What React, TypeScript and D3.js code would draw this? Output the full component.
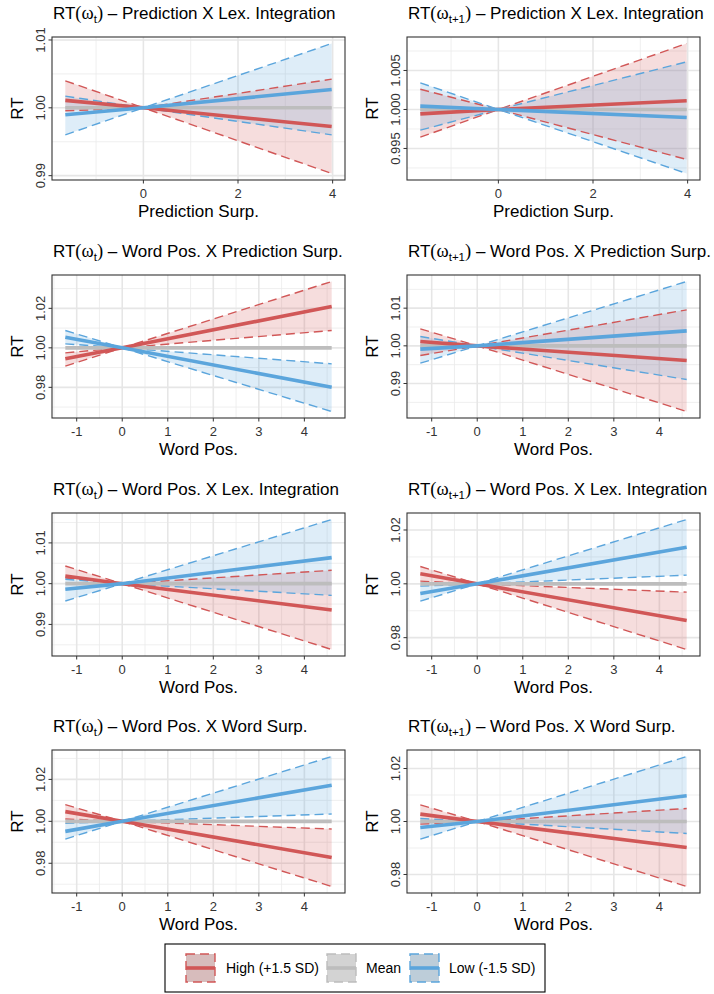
import React from 'react';
import * as d3 from 'd3';

// groups in legend order
const groups = ['High (+1.5 SD)', 'Mean', 'Low (-1.5 SD)'];
const colors = ['#D15757', '#BDBDBD', '#5BA5DC'];

const titleSubs = ['t', 't+1', 't', 't+1', 't', 't+1', 't', 't+1'];
const titleTexts = [
    'Prediction X Lex. Integration', 'Prediction X Lex. Integration',
    'Word Pos. X Prediction Surp.', 'Word Pos. X Prediction Surp.',
    'Word Pos. X Lex. Integration', 'Word Pos. X Lex. Integration',
    'Word Pos. X Word Surp.', 'Word Pos. X Word Surp.',
];
const xTitles = [
    'Prediction Surp.', 'Prediction Surp.', 'Word Pos.', 'Word Pos.',
    'Word Pos.', 'Word Pos.', 'Word Pos.', 'Word Pos.',
];

// x values where the effects are read: left end, centre, right end
const xPoints = [
    [-1.65, 0, 3.98], [-1.65, 0, 3.98],
    [-1.25, 0, 4.6], [-1.25, 0, 4.6],
    [-1.25, 0, 4.6], [-1.25, 0, 4.6],
    [-1.25, 0, 4.6], [-1.25, 0, 4.6],
];
const xTicks = [
    [0, 2, 4], [0, 2, 4],
    [-1, 0, 1, 2, 3, 4], [-1, 0, 1, 2, 3, 4],
    [-1, 0, 1, 2, 3, 4], [-1, 0, 1, 2, 3, 4],
    [-1, 0, 1, 2, 3, 4], [-1, 0, 1, 2, 3, 4],
];
const yTicks = [
    [0.99, 1, 1.01], [0.995, 1, 1.005],
    [0.98, 1, 1.02], [0.99, 1, 1.01],
    [0.99, 1, 1.01], [0.98, 1, 1.02],
    [0.98, 1, 1.02], [0.98, 1, 1.02],
];
const yTickLabels = [
    ['0.99', '1.00', '1.01'], ['0.995', '1.000', '1.005'],
    ['0.98', '1.00', '1.02'], ['0.99', '1.00', '1.01'],
    ['0.99', '1.00', '1.01'], ['0.98', '1.00', '1.02'],
    ['0.98', '1.00', '1.02'], ['0.98', '1.00', '1.02'],
];

// High (+1.5 SD)
const highFit = [
    [1.0011, 1, 0.99725], [0.99944, 1, 1.00111], [0.99443, 1, 1.02093], [1.00115, 1, 0.99611],
    [1.00189, 1, 0.99352], [1.00372, 1, 0.98638], [1.00462, 1, 0.98279], [1.00277, 1, 0.99019],
];
const highLower = [
    [0.99956, 1, 0.99032], [0.99645, 1, 0.99359], [0.99072, 1, 1.00878], [0.99743, 1, 0.98257],
    [1.0014, 1, 0.98385], [1.00099, 1, 0.9756], [1.00112, 1, 0.96892], [0.999, 1, 0.97547],
];
const highUpper = [
    [1.00398, 1, 1.00423], [1.0026, 1, 1.00846], [0.99747, 1, 1.03359], [1.00451, 1, 1.00956],
    [1.00434, 1, 1.00328], [1.00644, 1, 0.9969], [1.00797, 1, 0.99633], [1.00629, 1, 1.00491],
];
// Mean
const meanFit = [
    [1, 1, 1], [1, 1, 1], [1, 1, 1], [1, 1, 1],
    [1, 1, 1], [1, 1, 1], [1, 1, 1], [1, 1, 1],
];
// Low (-1.5 SD)
const lowFit = [
    [0.99897, 1, 1.0027], [1.00043, 1, 0.99897], [1.0054, 1, 0.98008], [0.99912, 1, 1.00398],
    [0.99861, 1, 1.00639], [0.99641, 1, 1.01362], [0.99522, 1, 1.01721], [0.99774, 1, 1.00969],
];
const lowLower = [
    [0.99602, 1, 0.99602], [0.99735, 1, 0.99179], [1.00203, 1, 0.96776], [0.9954, 1, 0.99106],
    [0.99574, 1, 0.99713], [0.99356, 1, 1.00322], [0.99155, 1, 1.00351], [0.99333, 1, 0.99547],
];
const lowUpper = [
    [1.00172, 1, 1.00948], [1.00342, 1, 1.00611], [1.00878, 1, 0.9919], [1.00248, 1, 1.01708],
    [1.00107, 1, 1.01574], [0.99913, 1, 1.0239], [0.99904, 1, 1.03092], [1.00113, 1, 1.02453],
];

const colLeft = [52, 407];
const rowTop = [37, 275, 513, 750];
const panelW = 293;
const panelH = 143;
const sansFont = "'Liberation Sans', Arial, Helvetica, sans-serif";
const serifFont = "'Liberation Serif', 'Times New Roman', serif";

const expand = (lo: number, hi: number) => {
    const pad = (hi - lo) * 0.05;
    return [lo - pad, hi + pad];
};

const minorBreaks = (ticks: number[], domain: number[]) => {
    const step = ticks[1] - ticks[0];
    const out = ticks.map((t) => t - step / 2).concat([ticks[ticks.length - 1] + step / 2]);
    return out.filter((t) => t >= domain[0] && t <= domain[1]);
};

function Panel({ i }: { i: number }) {
    const left = colLeft[i % 2];
    const top = rowTop[Math.floor(i / 2)];
    const xs = xPoints[i];

    const allY = [highFit, highLower, highUpper, meanFit, lowFit, lowLower, lowUpper].flatMap((a) => a[i]);
    const xDomain = expand(xs[0], xs[2]);
    const yDomain = expand(d3.min(allY) as number, d3.max(allY) as number);
    const x = d3.scaleLinear().domain(xDomain).range([left, left + panelW]);
    const y = d3.scaleLinear().domain(yDomain).range([top + panelH, top]);

    const line = d3.line<number>().x((_, k) => x(xs[k])).y((d) => y(d));
    const band = (lo: number[], hi: number[]) =>
        d3.area<number>().x((_, k) => x(xs[k])).y0((_, k) => y(lo[k])).y1((d) => y(d))(hi) as string;

    const bands = [
        { lo: highLower[i], hi: highUpper[i], c: colors[0] },
        { lo: lowLower[i], hi: lowUpper[i], c: colors[2] },
    ];
    const fits = [
        { v: meanFit[i], c: colors[1] },
        { v: highFit[i], c: colors[0] },
        { v: lowFit[i], c: colors[2] },
    ];

    const xMinor = minorBreaks(xTicks[i], xDomain);
    const yMinor = minorBreaks(yTicks[i], yDomain);
    const bottom = top + panelH;
    const cx = left + panelW / 2;

    return (
        <g>
            <text x={left + 1} y={top - 18} fontSize={17} fontFamily={sansFont} fill="#000">
                RT
                <tspan fontFamily={serifFont} fontSize={18.5}>(ω</tspan>
                <tspan fontSize={11.5} dy={4}>{titleSubs[i]}</tspan>
                <tspan dy={-4} fontFamily={serifFont} fontSize={18.5}>)</tspan>
                <tspan>{' \u2013 ' + titleTexts[i]}</tspan>
            </text>
            <rect x={left} y={top} width={panelW} height={panelH} fill="#fff" />
            {xMinor.map((t) => (
                <line key={'xm' + t} x1={x(t)} x2={x(t)} y1={top} y2={bottom} stroke="#EBEBEB" strokeWidth={0.8} />
            ))}
            {yMinor.map((t) => (
                <line key={'ym' + t} x1={left} x2={left + panelW} y1={y(t)} y2={y(t)} stroke="#EBEBEB" strokeWidth={0.8} />
            ))}
            {xTicks[i].map((t) => (
                <line key={'xg' + t} x1={x(t)} x2={x(t)} y1={top} y2={bottom} stroke="#E6E6E6" strokeWidth={1.6} />
            ))}
            {yTicks[i].map((t) => (
                <line key={'yg' + t} x1={left} x2={left + panelW} y1={y(t)} y2={y(t)} stroke="#E6E6E6" strokeWidth={1.6} />
            ))}
            {bands.map((b, k) => (
                <path key={'b' + k} d={band(b.lo, b.hi)} fill={b.c} fillOpacity={0.2} stroke="none" />
            ))}
            {bands.map((b, k) => (
                <g key={'d' + k} fill="none" stroke={b.c} strokeWidth={1.4} strokeDasharray="9,5">
                    <path d={line(b.lo) as string} />
                    <path d={line(b.hi) as string} />
                </g>
            ))}
            {fits.map((f, k) => (
                <path key={'f' + k} d={line(f.v) as string} fill="none" stroke={f.c} strokeWidth={3.6} />
            ))}
            <rect x={left} y={top} width={panelW} height={panelH} fill="none" stroke="#333" strokeWidth={1.1} />
            {xTicks[i].map((t) => (
                <g key={'xt' + t}>
                    <line x1={x(t)} x2={x(t)} y1={bottom} y2={bottom + 3.5} stroke="#333" strokeWidth={1} />
                    <text x={x(t)} y={bottom + 18} textAnchor="middle" fontSize={13} fontFamily={sansFont} fill="#333">
                        {t < 0 ? '-' + Math.abs(t) : t}
                    </text>
                </g>
            ))}
            {yTicks[i].map((t, k) => (
                <g key={'yt' + t}>
                    <line x1={left - 3.5} x2={left} y1={y(t)} y2={y(t)} stroke="#333" strokeWidth={1} />
                    <text transform={`translate(${left - 7},${y(t)}) rotate(-90)`} textAnchor="middle" fontSize={13}
                        fontFamily={sansFont} fill="#333">
                        {yTickLabels[i][k]}
                    </text>
                </g>
            ))}
            <text x={cx} y={bottom + 37} textAnchor="middle" fontSize={17} fontFamily={sansFont} fill="#000">
                {xTitles[i]}
            </text>
            <text transform={`translate(${left - 29},${top + panelH / 2}) rotate(-90)`} textAnchor="middle"
                fontSize={17} fontFamily={sansFont} fill="#000">
                RT
            </text>
        </g>
    );
}

const legendKeyX = [186, 327, 410];
const legendTextX = [226, 366, 449];

export default function App() {
    return (
        <svg width={714} height={994} style={{ position: 'absolute', left: 0, top: 0 }}>
            <rect width={714} height={994} fill="#fff" />
            {titleTexts.map((_, i) => (
                <Panel key={i} i={i} />
            ))}
            <rect x={165} y={944} width={380} height={48} fill="#fff" stroke="#000" strokeWidth={1.1} />
            {groups.map((g, k) => (
                <g key={g}>
                    <rect x={legendKeyX[k]} y={954} width={29} height={28} fill="#D9D9D9" />
                    <rect x={legendKeyX[k]} y={954} width={29} height={28} fill={colors[k]} fillOpacity={0.22}
                        stroke={colors[k]} strokeWidth={1.4} strokeDasharray="9,5" />
                    <line x1={legendKeyX[k]} x2={legendKeyX[k] + 29} y1={968} y2={968} stroke={colors[k]} strokeWidth={3.6} />
                    <text x={legendTextX[k]} y={973} fontSize={14} fontFamily={sansFont} fill="#000">
                        {g}
                    </text>
                </g>
            ))}
        </svg>
    );
}
